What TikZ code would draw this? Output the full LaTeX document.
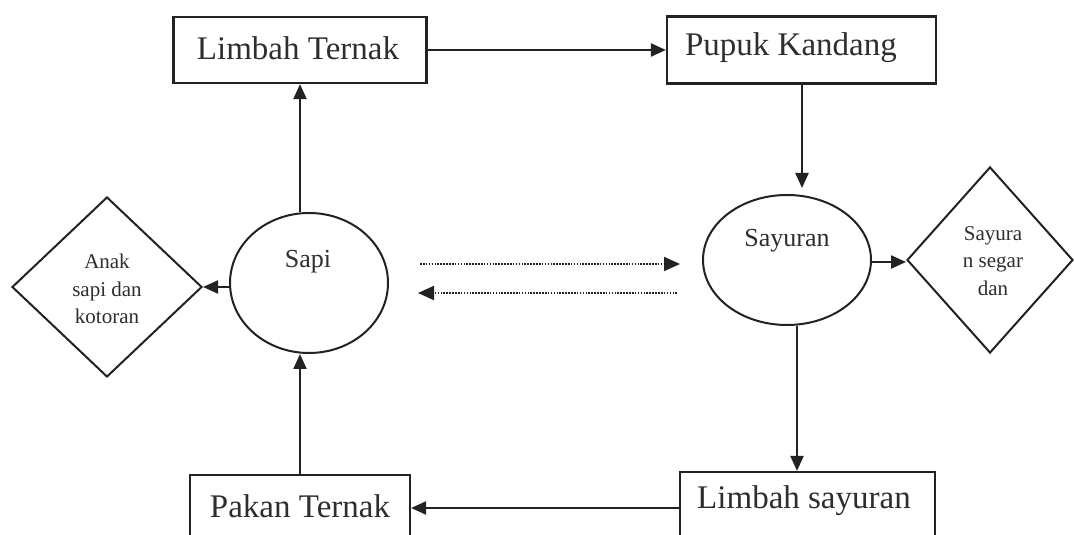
\documentclass[tikz,border=0pt]{standalone}
\usepackage{fontspec}
\setmainfont{Liberation Serif}
\usetikzlibrary{shapes.geometric,arrows.meta}
\definecolor{ink}{HTML}{222222}
\definecolor{txt}{HTML}{2E2E2E}
\begin{document}
\begin{tikzpicture}[x=1pt,y=1pt,
  boxnode/.style={draw=ink,line width=2.2pt,rectangle,inner sep=0pt},
  ovalnode/.style={draw=ink,line width=2pt,ellipse,inner sep=0pt},
  diamnode/.style={draw=ink,line width=2pt,diamond,inner sep=0pt},
  bigtxt/.style={text=txt,font=\fontsize{33}{36}\selectfont,inner sep=0pt},
  midtxt/.style={text=txt,font=\fontsize{26}{30}\selectfont,inner sep=0pt},
  smalltxt/.style={text=txt,font=\fontsize{21}{27.5}\selectfont,align=center,inner sep=0pt},
  arr/.style={draw=ink,line width=2.2pt,-{Triangle[length=15pt,width=13pt]}},
  dotarr/.style={draw=ink,line width=1.8pt,dash pattern=on 1.6pt off 1.3pt,-{Triangle[length=16pt,width=14pt]}}
]
\clip (0,0) rectangle (1074,535);
\fill[white] (0,0) rectangle (1074,535);
% boxes
\node[boxnode,minimum width=253pt,minimum height=66pt] (lt) at (300,485) {};
\node[boxnode,minimum width=269pt,minimum height=67pt] (pk) at (801.5,485) {};
\node[boxnode,minimum width=220pt,minimum height=90pt] (pt) at (300,15) {};
\node[boxnode,minimum width=255pt,minimum height=93pt] (ls) at (807.5,16.5) {};
\node[bigtxt] (ltt) at (298,487) {Limbah Ternak};
\node[bigtxt] (pkt) at (791,487) {Pupuk Kandang};
\node[bigtxt] (ptt) at (300,29) {Pakan Ternak};
\node[bigtxt] (lst) at (804,34) {Limbah sayuran};
% ellipses
\node[ovalnode,minimum width=158pt,minimum height=140pt] (sapi) at (309,252) {};
\node[midtxt] (sapit) at (308,273) {Sapi};
\node[ovalnode,minimum width=168pt,minimum height=130pt] (say) at (787,275) {};
\node[midtxt] (sayt) at (787,294) {Sayuran};
% diamonds
\node[diamnode,minimum width=190pt,minimum height=180pt] (ld) at (107,248) {};
\node[smalltxt] (ldt) at (107,246) {Anak\\sapi dan\\kotoran};
\node[diamnode,minimum width=166pt,minimum height=186pt] (rd) at (990,275) {};
\node[smalltxt] (rdt) at (993,274) {Sayura\\n segar\\dan};
% dotted arrow ends
\coordinate (d1a) at (420,271);
\coordinate (d1b) at (680,271);
\coordinate (d2a) at (677,242);
\coordinate (d2b) at (418,242);
% connectors
\draw[arr] (sapi.north -| lt.south) -- (lt.south);
\draw[arr] (lt.east) -- (pk.west);
\draw[arr,shorten >=6pt] ([xshift=0.5pt]pk.south) -- ([xshift=0.5pt]pk.south |- say.north);
\draw[arr] ([xshift=10pt]say.south) -- ([xshift=10pt]say.south |- ls.north);
\draw[arr] ([yshift=-2pt]say.east) -- ([yshift=-2pt]say.east -| rd.west);
\draw[arr] (ls.west |- 0,27) -- (pt.east |- 0,27);
\draw[arr] (pt.north) -- (pt.north |- sapi.south);
\draw[arr] (sapi.west |- ld.east) -- (ld.east);
\draw[dotarr] (d1a) -- (d1b);
\draw[dotarr] (d2a) -- (d2b);
\end{tikzpicture}
\end{document}
